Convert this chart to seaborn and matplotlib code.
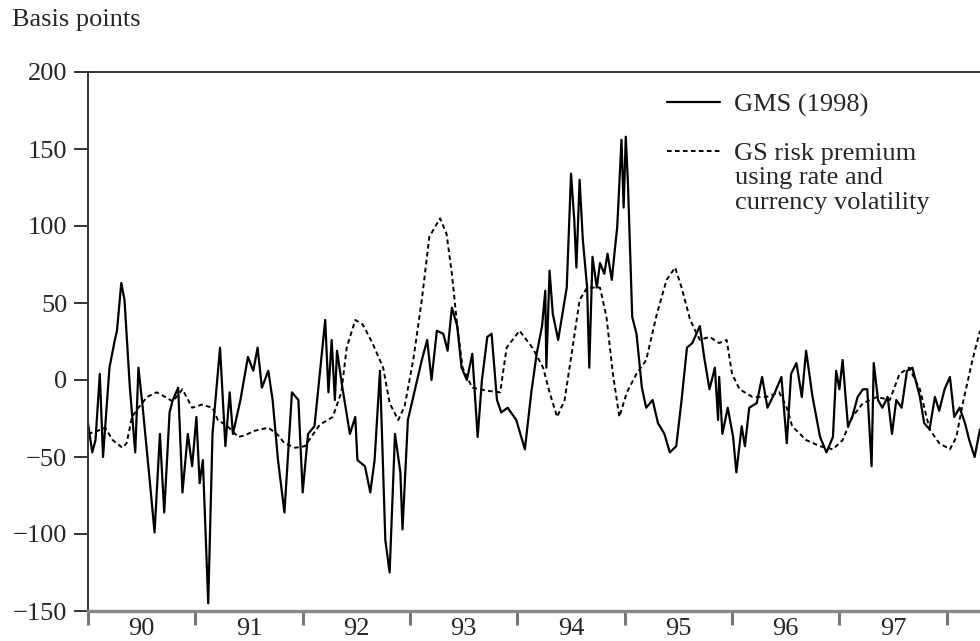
import numpy as np
import pandas as pd
import seaborn as sns
import matplotlib.pyplot as plt
from matplotlib.ticker import FixedLocator, NullFormatter, FixedFormatter

# GMS (1998) series (decimal year, basis points)
gms_year = [
    1990.00, 1990.04, 1990.07, 1990.11, 1990.14, 1990.20, 1990.25, 1990.27, 1990.31, 1990.34,
    1990.39, 1990.44, 1990.47, 1990.51, 1990.58, 1990.62, 1990.67, 1990.71, 1990.76, 1990.79,
    1990.84, 1990.88, 1990.93, 1990.97, 1991.01, 1991.04, 1991.07, 1991.12, 1991.16, 1991.23,
    1991.28, 1991.32, 1991.35, 1991.42, 1991.49, 1991.54, 1991.58, 1991.62, 1991.68, 1991.72,
    1991.77, 1991.83, 1991.90, 1991.96, 1992.00, 1992.05, 1992.11, 1992.21, 1992.24, 1992.27,
    1992.30, 1992.32, 1992.37, 1992.44, 1992.49, 1992.51, 1992.58, 1992.63, 1992.67, 1992.72,
    1992.77, 1992.81, 1992.86, 1992.91, 1992.93, 1992.98, 1993.04, 1993.11, 1993.16, 1993.20,
    1993.25, 1993.31, 1993.35, 1993.39, 1993.44, 1993.48, 1993.53, 1993.58, 1993.63, 1993.67,
    1993.72, 1993.76, 1993.81, 1993.85, 1993.91, 1993.99, 1994.07, 1994.13, 1994.18, 1994.23,
    1994.26, 1994.27, 1994.30, 1994.33, 1994.38, 1994.42, 1994.46, 1994.50, 1994.53, 1994.55,
    1994.58, 1994.61, 1994.65, 1994.67, 1994.70, 1994.74, 1994.77, 1994.81, 1994.84, 1994.88,
    1994.91, 1994.93, 1994.97, 1994.99, 1995.01, 1995.03, 1995.07, 1995.11, 1995.16, 1995.20,
    1995.26, 1995.31, 1995.37, 1995.42, 1995.48, 1995.53, 1995.58, 1995.63, 1995.70, 1995.74,
    1995.79, 1995.84, 1995.87, 1995.88, 1995.91, 1995.96, 1996.01, 1996.04, 1996.09, 1996.12,
    1996.16, 1996.23, 1996.28, 1996.33, 1996.40, 1996.46, 1996.51, 1996.55, 1996.60, 1996.65,
    1996.69, 1996.75, 1996.82, 1996.88, 1996.94, 1996.97, 1997.00, 1997.03, 1997.08, 1997.12,
    1997.17, 1997.22, 1997.26, 1997.30, 1997.32, 1997.36, 1997.40, 1997.45, 1997.49, 1997.53,
    1997.58, 1997.63, 1997.68, 1997.75, 1997.79, 1997.84, 1997.89, 1997.93, 1997.98, 1998.03,
    1998.07, 1998.12, 1998.17, 1998.21, 1998.26, 1998.31,
]
gms_bp = [
    -28, -47, -39, 4, -50, 8, 26, 32, 63, 52,
    -5, -47, 8, -18, -69, -99, -35, -86, -21, -13,
    -5, -73, -35, -56, -24, -67, -52, -145, -35, 21,
    -43, -8, -35, -13, 15, 6, 21, -5, 6, -13,
    -52, -86, -8, -13, -73, -35, -30, 39, -8, 26,
    -13, 19, -5, -35, -24, -52, -56, -73, -52, 6,
    -104, -125, -35, -60, -97, -26, -8, 13, 26, 0,
    32, 30, 19, 47, 35, 8, 0, 17, -37, 0,
    28, 30, -13, -21, -18, -26, -45, -8, 17, 35,
    58, 8, 71, 43, 26, 43, 60, 134, 104, 73,
    130, 91, 60, 8, 80, 60, 76, 69, 82, 65,
    86, 99, 156, 112, 158, 128, 41, 30, -5, -18,
    -13, -28, -35, -47, -43, -13, 21, 24, 35, 15,
    -6, 8, -26, 2, -35, -18, -37, -60, -30, -43,
    -18, -15, 2, -18, -8, 2, -41, 4, 11, -11,
    19, -11, -37, -47, -37, 6, -6, 13, -30, -24,
    -11, -6, -6, -56, 11, -13, -18, -11, -35, -13,
    -18, 6, 8, -11, -28, -32, -11, -20, -6, 2,
    -24, -18, -28, -39, -50, -32,
]

# GS risk premium using rate and currency volatility
gs_year = [
    1990.00, 1990.09, 1990.16, 1990.23, 1990.32, 1990.36, 1990.41, 1990.47, 1990.55, 1990.64,
    1990.72, 1990.79, 1990.88, 1990.97, 1991.06, 1991.16, 1991.21, 1991.30, 1991.40, 1991.46,
    1991.55, 1991.68, 1991.76, 1991.83, 1991.93, 1992.02, 1992.16, 1992.28, 1992.36, 1992.41,
    1992.49, 1992.56, 1992.65, 1992.75, 1992.81, 1992.89, 1992.95, 1993.03, 1993.11, 1993.18,
    1993.28, 1993.34, 1993.39, 1993.44, 1993.49, 1993.58, 1993.72, 1993.84, 1993.90, 1994.02,
    1994.14, 1994.24, 1994.30, 1994.37, 1994.44, 1994.51, 1994.58, 1994.65, 1994.77, 1994.83,
    1994.89, 1994.95, 1995.02, 1995.11, 1995.20, 1995.30, 1995.39, 1995.47, 1995.53, 1995.61,
    1995.70, 1995.79, 1995.88, 1995.95, 1996.00, 1996.07, 1996.19, 1996.32, 1996.44, 1996.51,
    1996.56, 1996.69, 1996.82, 1996.94, 1997.03, 1997.12, 1997.22, 1997.35, 1997.47, 1997.56,
    1997.65, 1997.75, 1997.84, 1997.93, 1998.03, 1998.09, 1998.15, 1998.24, 1998.31,
]
gs_bp = [
    -35, -33, -31, -39, -44, -41, -24, -18, -11, -8,
    -11, -14, -6, -18, -16, -18, -26, -30, -37, -36,
    -33, -31, -35, -41, -44, -43, -29, -24, -8, 21,
    39, 36, 24, 8, -15, -26, -17, 13, 52, 93,
    105, 95, 69, 35, 8, -5, -7, -8, 21, 32,
    21, 8, -8, -24, -13, 19, 52, 60, 60, 41,
    4, -24, -8, 4, 13, 43, 65, 73, 60, 39,
    26, 28, 24, 26, 4, -6, -11, -11, -8, -18,
    -30, -39, -43, -45, -39, -24, -15, -11, -13, 4,
    8, -6, -32, -41, -45, -37, -15, 13, 32,
]

year_labels = ['90', '91', '92', '93', '94', '95', '96', '97']

gms = pd.DataFrame({'year': gms_year, 'bp': gms_bp})
gs = pd.DataFrame({'year': gs_year, 'bp': gs_bp})

sns.set_style('white')
plt.rcParams['font.family'] = ['Liberation Serif', 'DejaVu Serif']
fs = 19

fig = plt.figure(figsize=(9.8, 6.41), dpi=100)
ax = fig.add_axes([88 / 980, 1 - 611 / 641, 1 - 88 / 980, (611 - 72) / 641])

sns.lineplot(data=gms, x='year', y='bp', ax=ax, color='black', linewidth=1.6,
             estimator=None, label='GMS (1998)')
sns.lineplot(data=gs, x='year', y='bp', ax=ax, color='black', linewidth=1.4,
             estimator=None, label='GS risk premium')
ax.lines[1].set_dashes([2.4, 1.7])

ax.set_xlim(1990, 1998.31)
ax.set_ylim(-150, 200)
ax.set_xlabel('')
ax.set_ylabel('')

# year boundaries as ticks, year names centred in between
ax.xaxis.set_major_locator(FixedLocator(np.arange(1990, 1999)))
ax.xaxis.set_major_formatter(NullFormatter())
ax.xaxis.set_minor_locator(FixedLocator(np.arange(1990, 1998) + 0.5))
ax.xaxis.set_minor_formatter(FixedFormatter(year_labels))
ax.tick_params(axis='x', which='major', direction='out', length=10, width=2.2,
               color='#777777', bottom=True)
ax.tick_params(axis='x', which='minor', length=0, pad=5, labelsize=fs, bottom=True)
ax.set_yticks(np.arange(-150, 201, 50))
ax.tick_params(axis='y', direction='out', length=10, width=1.4, color='#333333',
               pad=5, labelsize=fs, left=True)

for side in ['left', 'top']:
    ax.spines[side].set_color('#333333')
    ax.spines[side].set_linewidth(1.4)
ax.spines['bottom'].set_color('#888888')
ax.spines['bottom'].set_linewidth(2.4)
ax.spines['right'].set_visible(False)

leg = ax.legend(loc='upper left', bbox_to_anchor=(0.649, 0.961), frameon=False,
                borderpad=0, borderaxespad=0, handlelength=2.0, handletextpad=0.55,
                labelspacing=0.93, fontsize=fs)
ax.text(0.7253, 0.780, 'using rate and\ncurrency volatility', transform=ax.transAxes,
        fontsize=fs, va='center', ha='left', linespacing=1.18)

fig.text(12 / 980, 1 - 20 / 641, 'Basis points', fontsize=fs, va='center', ha='left')

fig.savefig('out.png', dpi=100)
